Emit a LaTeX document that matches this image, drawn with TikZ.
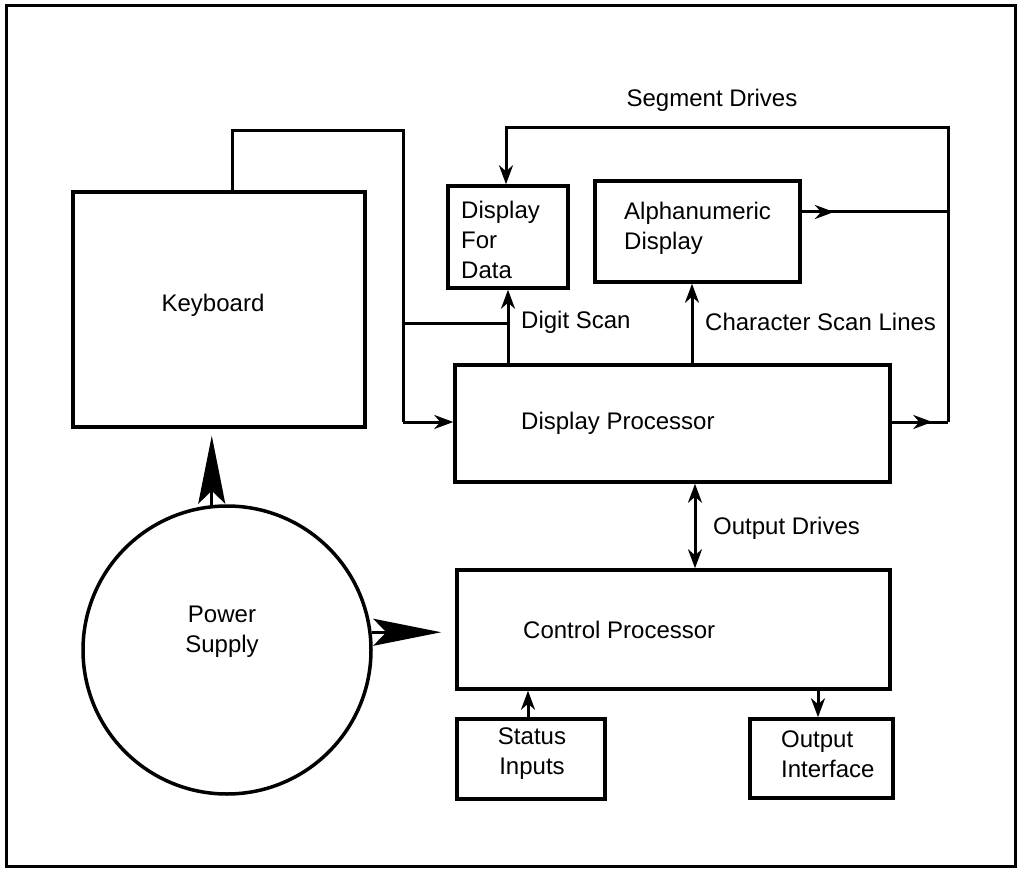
\documentclass[tikz,border=0pt]{standalone}
\usepackage{fontspec}
\setmainfont{Liberation Sans}
\usetikzlibrary{arrows.meta,decorations.markings}
\begin{document}
\begin{tikzpicture}[x=1pt,y=-1pt,
  every node/.style={font=\fontsize{24}{30}\selectfont},
  box/.style={draw,rectangle,line width=3.5pt,inner sep=0pt},
  lbl/.style={inner sep=0pt},
  conn/.style={line width=3pt},
  >={Stealth[length=19pt,width=14pt,inset=6pt]},
  Big/.tip={Stealth[length=68pt,width=27pt,inset=13pt]},
  midarrow/.style={postaction={decorate},decoration={markings,
     mark=at position #1 with {\arrow{Stealth[length=19pt,width=14pt,inset=6pt]}}}}
]
\useasboundingbox (0,0) rectangle (1018,869);
\draw[line width=3pt] (6,6) rectangle (1015,866);

% boxes
\node[box,minimum width=292pt,minimum height=235pt] (kb) at (219,309.5) {};
\node[box,minimum width=120pt,minimum height=102pt] (dfd) at (508,237) {};
\node[box,minimum width=205pt,minimum height=101pt] (alpha) at (697.5,231.5) {};
\node[box,minimum width=435pt,minimum height=117pt] (dp) at (672.5,423.5) {};
\node[box,minimum width=433pt,minimum height=119pt] (cp) at (673.5,629.5) {};
\node[box,minimum width=148pt,minimum height=80pt] (si) at (531,759) {};
\node[box,minimum width=143pt,minimum height=79pt] (oi) at (821.5,758.5) {};
\node[draw,circle,line width=3.5pt,minimum size=288pt,inner sep=0pt] (ps) at (227,650) {};

% labels
\node[lbl] (kbt) at (213,305) {Keyboard};
\node[lbl,anchor=west,align=left] (dfdt) at (461,240) {Display\\For\\Data};
\node[lbl,anchor=west,align=left] (alt) at (624,228) {Alphanumeric\\Display};
\node[lbl,anchor=west] (dpt) at (521,423) {Display Processor};
\node[lbl,anchor=west] (cpt) at (523,630) {Control Processor};
\node[lbl,align=center] (sit) at (532,754) {Status\\Inputs};
\node[lbl,anchor=west,align=left] (oit) at (781,754) {Output\\Interface};
\node[lbl,align=center] (pst) at (222,632) {Power\\Supply};
\node[lbl] (segt) at (712,100) {Segment Drives};
\node[lbl,anchor=west] (dst) at (521,322) {Digit Scan};
\node[lbl,anchor=west] (cst) at (705,322) {Character Scan Lines};
\node[lbl,anchor=west] (odt) at (713,528) {Output Drives};

% routing points
\coordinate (kbtop) at (232,131);
\coordinate (lroute) at (403,131);
\coordinate (lbranch) at (403,323);
\coordinate (lbot) at (403,422);
\coordinate (ds) at (508,323);
\coordinate (cs) at (692,323);
\coordinate (segL) at (506,128);
\coordinate (segR) at (948,128);
\coordinate (busA) at (948,212);
\coordinate (busD) at (948,422);
\coordinate (od) at (695,528);
\coordinate (sx) at (528,700);
\coordinate (ox) at (818,700);

% connectors
\draw[conn] (kb.north -| kbtop) -- (kbtop) -- (lroute) -- (lbot);
\draw[conn,->] (lbot) -- (dp.west |- lbot);
\draw[conn] (lbranch) -- (ds);
\draw[conn,->] (dp.north -| ds) -- (dfd.south -| ds);
\draw[conn,->] (dp.north -| cs) -- (alpha.south -| cs);
\draw[conn,->] (busD) -- (segR) -- (segL) -- (dfd.north -| segL);
\draw[conn,midarrow=0.22] (alpha.east |- busA) -- (busA);
\draw[conn,midarrow=0.72] (dp.east |- busD) -- (busD);
\draw[conn,<->] (dp.south -| od) -- (cp.north -| od);
\draw[conn,->] (si.north -| sx) -- (cp.south -| sx);
\draw[conn,->] (cp.south -| ox) -- (oi.north -| ox);

% power supply arrows
\draw[conn,-Big,shorten >=7pt] (ps.96) -- (ps.96 |- kb.south);
\draw[conn,-Big,shorten >=14pt] (ps.7) -- (cp.west |- ps.7);
\end{tikzpicture}
\end{document}
